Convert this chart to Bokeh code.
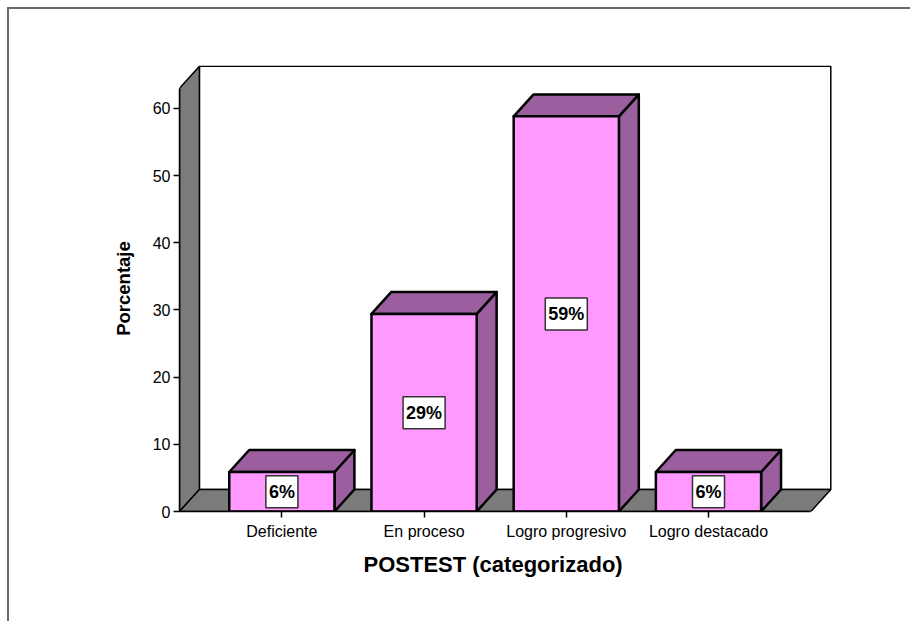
from bokeh.plotting import figure
from bokeh.models import Range1d, ColumnDataSource, FixedTicker, Title
from bokeh.core.properties import value
from bokeh.embed import file_html
from bokeh.resources import INLINE

# ---- data ----
categories = ["Deficiente", "En proceso", "Logro progresivo", "Logro destacado"]
percent = [5.88, 29.41, 58.82, 5.88]
bar_labels = ["6%", "29%", "59%", "6%"]
y_ticks = [0, 10, 20, 30, 40, 50, 60]
x_title = "POSTEST (categorizado)"
y_title = "Porcentaje"

# ---- geometry of the pseudo-3D box (data units) ----
X0, X1 = -0.72, 3.72        # front floor edge
Y_TOP = 63.0                # front top of the left wall
DX, DY = 0.14, 3.27         # depth offset
BAR_W = 0.74

FONT = "Liberation Sans"
PINK = "#ff99ff"
PURPLE = "#9b5f9f"
GRAY = "#7b7b7b"

p = figure(width=903, height=614,
           x_range=Range1d(X0, X1 + DX + 0.012),
           y_range=Range1d(0, Y_TOP + DY + 0.12),
           output_backend="svg", toolbar_location=None,
           min_border_left=170, min_border_right=80,
           min_border_top=56, min_border_bottom=112)
p.styles = {"border-top": "2px solid #6a6a6a", "border-left": "2px solid #6a6a6a",
            "margin-left": "7px", "margin-top": "7px"}
p.outline_line_color = None
p.xgrid.visible = False
p.ygrid.visible = False
p.background_fill_color = "white"
p.border_fill_color = "white"

# back wall
p.quad(left=[X0 + DX], right=[X1 + DX], bottom=[DY], top=[Y_TOP + DY],
       fill_color="white", line_color="black", line_width=1.5)
# left wall
p.patch([X0, X0, X0 + DX, X0 + DX], [0, Y_TOP, Y_TOP + DY, DY],
        fill_color=GRAY, line_color="black", line_width=1.5)
# floor
p.patch([X0, X0 + DX, X1 + DX, X1], [0, DY, DY, 0],
        fill_color=GRAY, line_color="black", line_width=1.5)

# bars
side_xs, side_ys, top_xs, top_ys, fr_xs, fr_ys = [], [], [], [], [], []
for i, v in enumerate(percent):
    l, r = i - BAR_W / 2, i + BAR_W / 2
    side_xs.append([r, r, r + DX, r + DX]); side_ys.append([0, v, v + DY, DY])
    top_xs.append([l, l + DX, r + DX, r]); top_ys.append([v, v + DY, v + DY, v])
    fr_xs.append([l, l, r, r]); fr_ys.append([0, v, v, 0])

p.patches(side_xs, side_ys, fill_color=PURPLE, line_color="black", line_width=2.5, line_join="round")
p.patches(top_xs, top_ys, fill_color=PURPLE, line_color="black", line_width=2.5, line_join="round")
p.patches(fr_xs, fr_ys, fill_color=PINK, line_color="black", line_width=2.5, line_join="round")

src = ColumnDataSource(dict(x=list(range(len(categories))),
                            y=[v / 2 for v in percent],
                            text=bar_labels))
p.text(x="x", y="y", text="text", source=src,
       text_align="center", text_baseline="middle",
       text_font=value(FONT), text_font_style="bold", text_font_size="18px",
       text_color="black",
       background_fill_color="white",
       border_line_color="#333333", border_line_width=1.5,
       padding=dict(left=3, right=3, top=6, bottom=6))

# axes
xa = p.xaxis[0]
xa.ticker = FixedTicker(ticks=list(range(len(categories))))
xa.major_label_overrides = {i: c for i, c in enumerate(categories)}
xa.bounds = (X0, X1)
xa.axis_line_color = "black"
xa.axis_line_width = 1.5
xa.major_tick_in = 0
xa.major_tick_out = 6
xa.major_tick_line_width = 1.5
xa.minor_tick_line_color = None
xa.major_label_text_font = FONT
xa.major_label_text_font_size = "16px"
xa.major_label_text_color = "black"
xa.major_label_standoff = 5

# x-axis title, placed under the floor's front edge
p.add_layout(Title(text=x_title, align="left", offset=184, standoff=14,
                   text_font=FONT, text_font_style="bold", text_font_size="22px",
                   text_color="black"), "below")

ya = p.yaxis[0]
ya.ticker = FixedTicker(ticks=y_ticks)
ya.bounds = (0, Y_TOP)
ya.axis_line_color = "black"
ya.axis_line_width = 1.5
ya.major_tick_in = 0
ya.major_tick_out = 6
ya.major_tick_line_width = 1.5
ya.minor_tick_line_color = None
ya.major_label_text_font = FONT
ya.major_label_text_font_size = "16px"
ya.major_label_text_color = "black"
ya.major_label_standoff = 3
ya.axis_label = y_title
ya.axis_label_text_font = FONT
ya.axis_label_text_font_style = "bold"
ya.axis_label_text_font_size = "18.5px"
ya.axis_label_text_color = "black"
ya.axis_label_standoff = 16

open("out.html", "w").write(file_html(p, INLINE))
